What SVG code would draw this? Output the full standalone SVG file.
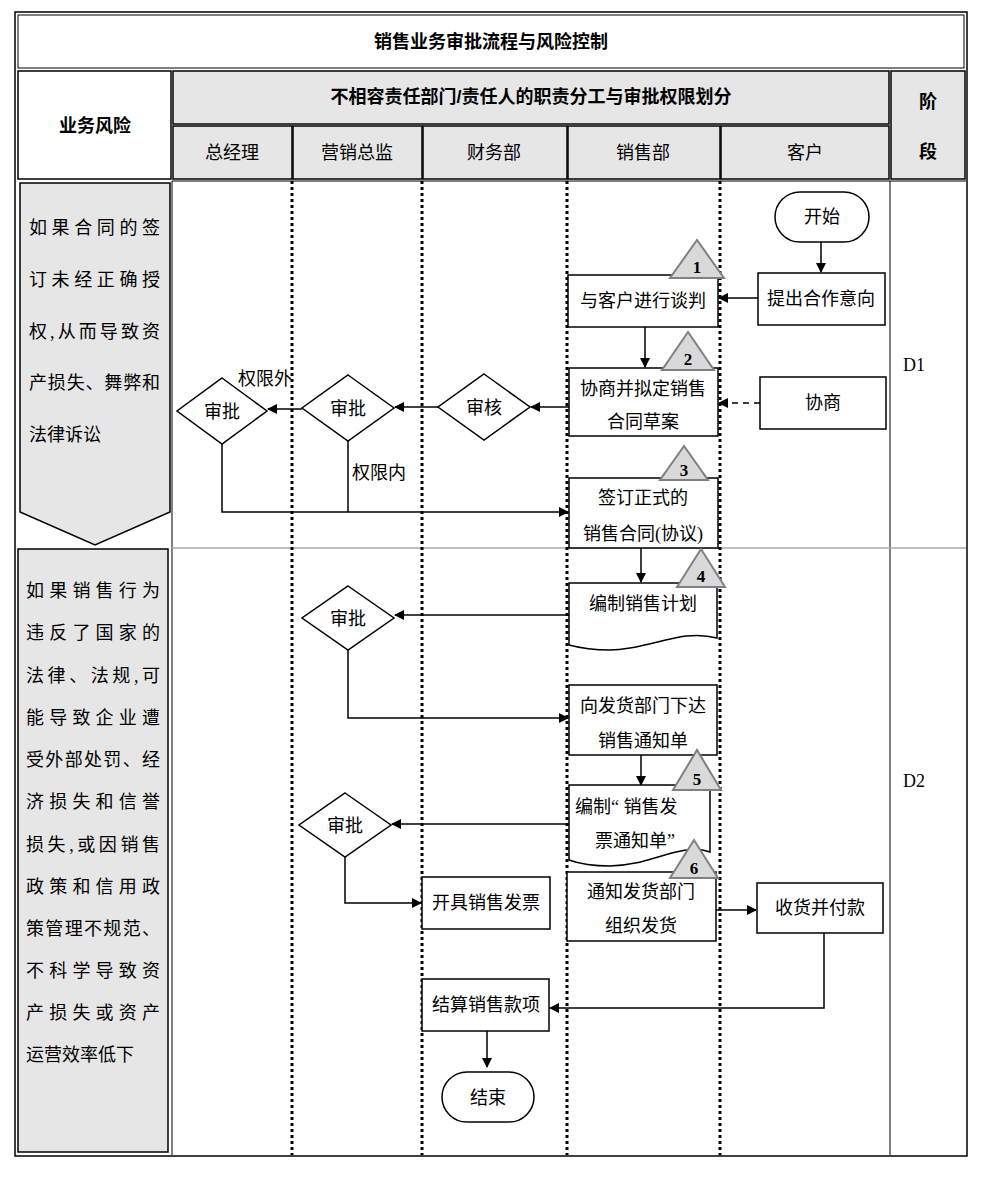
<svg xmlns="http://www.w3.org/2000/svg" width="987" height="1188" viewBox="0 0 987 1188">
<defs>
<marker id="ah" markerWidth="10" markerHeight="10" refX="9" refY="5" orient="auto" markerUnits="userSpaceOnUse"><path d="M0,0 L10,5 L0,10 z" fill="#000"/></marker>
<style>
text{font-family:"Liberation Serif","Noto Sans CJK SC",serif;font-size:18px;fill:#000}
.h{font-family:"Liberation Sans","Noto Sans CJK SC",sans-serif;font-weight:bold;font-size:18px}
.c{text-anchor:middle}
.box{fill:#fff;stroke:#000;stroke-width:1.5}
.gr{fill:#e6e6e6;stroke:#000;stroke-width:1.5}
.tri{fill:#d9d9d9;stroke:#808080;stroke-width:2}
.ln{fill:none;stroke:#000;stroke-width:1.5}
.dot{stroke:#000;stroke-width:3;stroke-dasharray:3 3}
.num{font-weight:bold;font-size:17px;text-anchor:middle}
</style>
</defs>
<rect x="0" y="0" width="987" height="1188" fill="#fff"/>
<g id="frame">
<rect x="15" y="12" width="952" height="1144" fill="none" stroke="#000" stroke-width="1.5"/>
<rect x="18" y="15" width="946" height="53" fill="none" stroke="#000" stroke-width="1"/>
<text class="h c" x="491" y="48">销售业务审批流程与风险控制</text>
<rect x="18" y="71" width="153" height="108" fill="#fff" stroke="#000" stroke-width="1.5"/>
<text class="h c" x="95" y="132">业务风险</text>
<rect x="173" y="71" width="716" height="53" class="gr"/>
<text class="h c" x="531" y="103">不相容责任部门/责任人的职责分工与审批权限划分</text>
<rect x="891" y="71" width="74" height="108" class="gr"/>
<text class="h c" x="928" y="108">阶</text>
<text class="h c" x="928" y="158">段</text>
<rect x="173" y="126" width="119" height="53" class="gr"/>
<rect x="293" y="126" width="129" height="53" class="gr"/>
<rect x="423" y="126" width="144" height="53" class="gr"/>
<rect x="568" y="126" width="152" height="53" class="gr"/>
<rect x="721" y="126" width="168" height="53" class="gr"/>
<g style="font-family:'Noto Sans CJK SC',sans-serif;fill:#333">
<text class="c" x="232" y="159" style="font-family:'Noto Sans CJK SC',sans-serif">总经理</text>
<text class="c" x="357" y="159" style="font-family:'Noto Sans CJK SC',sans-serif">营销总监</text>
<text class="c" x="494" y="159" style="font-family:'Noto Sans CJK SC',sans-serif">财务部</text>
<text class="c" x="643" y="159" style="font-family:'Noto Sans CJK SC',sans-serif">销售部</text>
<text class="c" x="805" y="159" style="font-family:'Noto Sans CJK SC',sans-serif">客户</text>
</g>
<line x1="172" y1="181" x2="172" y2="1155" stroke="#000" stroke-width="1"/>
<line x1="890" y1="181" x2="890" y2="1155" stroke="#000" stroke-width="1"/>
<line x1="172" y1="181" x2="966" y2="181" stroke="#000" stroke-width="1"/>
<line x1="172" y1="548" x2="966" y2="548" stroke="#aaa" stroke-width="1.5"/>
<line class="dot" x1="292" y1="181" x2="292" y2="1155"/>
<line class="dot" x1="422" y1="181" x2="422" y2="1155"/>
<line class="dot" x1="567" y1="181" x2="567" y2="1155"/>
<line class="dot" x1="720" y1="181" x2="720" y2="1155"/>
<text x="903" y="371">D1</text>
<text x="903" y="787">D2</text>
</g>
<g id="risk1">
<path d="M20,183 H170 V512 L95,545 L20,512 Z" class="gr"/>
<text x="29" y="234" textLength="131" lengthAdjust="spacing">如果合同的签</text>
<text x="29" y="286" textLength="131" lengthAdjust="spacing">订未经正确授</text>
<text x="29" y="338" textLength="131" lengthAdjust="spacing">权,从而导致资</text>
<text x="29" y="389" textLength="131" lengthAdjust="spacing">产损失、舞弊和</text>
<text x="29" y="441">法律诉讼</text>
</g>
<g id="risk2">
<rect x="18" y="549" width="150" height="603" class="gr"/>
<text x="26" y="597" textLength="134" lengthAdjust="spacing">如果销售行为</text>
<text x="26" y="639" textLength="134" lengthAdjust="spacing">违反了国家的</text>
<text x="26" y="682" textLength="134" lengthAdjust="spacing">法律、法规,可</text>
<text x="26" y="724" textLength="134" lengthAdjust="spacing">能导致企业遭</text>
<text x="26" y="766" textLength="134" lengthAdjust="spacing">受外部处罚、经</text>
<text x="26" y="808" textLength="134" lengthAdjust="spacing">济损失和信誉</text>
<text x="26" y="851" textLength="134" lengthAdjust="spacing">损失,或因销售</text>
<text x="26" y="893" textLength="134" lengthAdjust="spacing">政策和信用政</text>
<text x="26" y="935" textLength="134" lengthAdjust="spacing">策管理不规范、</text>
<text x="26" y="977" textLength="134" lengthAdjust="spacing">不科学导致资</text>
<text x="26" y="1019" textLength="134" lengthAdjust="spacing">产损失或资产</text>
<text x="26" y="1061">运营效率低下</text>
</g>
<g id="connectors">
<line class="ln" x1="821" y1="242" x2="821" y2="272" marker-end="url(#ah)"/>
<line class="ln" x1="758" y1="298" x2="719" y2="298" marker-end="url(#ah)"/>
<line class="ln" x1="645" y1="327" x2="645" y2="367" marker-end="url(#ah)"/>
<line class="ln" x1="760" y1="403" x2="719" y2="403" stroke-dasharray="6 5" marker-end="url(#ah)"/>
<line class="ln" x1="569" y1="407" x2="531" y2="407" marker-end="url(#ah)"/>
<line class="ln" x1="438" y1="407" x2="395" y2="407" marker-end="url(#ah)"/>
<line class="ln" x1="302" y1="409" x2="268" y2="409" marker-end="url(#ah)"/>
<polyline class="ln" points="222,444 222,512 568,512" marker-end="url(#ah)"/>
<line class="ln" x1="348" y1="441" x2="348" y2="512"/>
<line class="ln" x1="641" y1="548" x2="641" y2="582" marker-end="url(#ah)"/>
<line class="ln" x1="569" y1="615" x2="395" y2="615" marker-end="url(#ah)"/>
<polyline class="ln" points="348,650 348,718 568,718" marker-end="url(#ah)"/>
<line class="ln" x1="641" y1="755" x2="641" y2="785" marker-end="url(#ah)"/>
<line class="ln" x1="569" y1="824" x2="392" y2="824" marker-end="url(#ah)"/>
<polyline class="ln" points="345,857 345,903 421,903" marker-end="url(#ah)"/>
<line class="ln" x1="716" y1="910" x2="756" y2="910" marker-end="url(#ah)"/>
<polyline class="ln" points="824,933 824,1008 550,1008" marker-end="url(#ah)"/>
<line class="ln" x1="487" y1="1031" x2="487" y2="1067" marker-end="url(#ah)"/>
</g>
<g id="start"><rect x="775" y="192" width="94" height="50" rx="25" class="box"/><text class="c" x="822" y="223">开始</text></g>
<g id="intent"><rect x="758" y="273" width="127" height="52" class="box"/><text class="c" x="821" y="305">提出合作意向</text></g>
<g id="negotiate"><rect x="568" y="275" width="150" height="52" class="box"/><text class="c" x="643" y="307">与客户进行谈判</text></g>
<g id="t1"><polygon class="tri" points="697,240 670,278 724,278"/><text class="num" x="697" y="273">1</text></g>
<g id="draft"><rect x="569" y="368" width="149" height="68" class="box"/><text class="c" x="643" y="395">协商并拟定销售</text><text class="c" x="643" y="428">合同草案</text></g>
<g id="t2"><polygon class="tri" points="688,332 662,370 714,370"/><text class="num" x="688" y="365">2</text></g>
<g id="consult"><rect x="760" y="377" width="126" height="52" class="box"/><text class="c" x="823" y="409">协商</text></g>
<g id="review"><polygon class="box" points="484,374 530,407 484,440 438,407"/><text class="c" x="484" y="414">审核</text></g>
<g id="approve1"><polygon class="box" points="348,375 394,408 348,441 302,408"/><text class="c" x="348" y="415">审批</text></g>
<g id="approve0"><polygon class="box" points="222,378 267,411 222,444 177,411"/><text class="c" x="222" y="418">审批</text></g>
<text x="238" y="385">权限外</text>
<text x="352" y="479">权限内</text>
<g id="sign"><rect x="569" y="478" width="149" height="70" class="box"/><text class="c" x="643" y="504">签订正式的</text><text class="c" x="643" y="540">销售合同(协议)</text></g>
<g id="t3"><polygon class="tri" points="684,446 660,480 708,480"/><text class="num" x="684" y="476">3</text></g>
<g id="plan"><path d="M569,583 H717 V638 C680,628 650,650 610,650 C590,650 580,648 569,645 Z" class="box"/><text class="c" x="643" y="610">编制销售计划</text></g>
<g id="t4"><polygon class="tri" points="701,549 677,587 725,587"/><text class="num" x="701" y="582">4</text></g>
<g id="approve2"><polygon class="box" points="348,586 394,618 348,650 302,618"/><text class="c" x="348" y="625">审批</text></g>
<g id="notice"><rect x="569" y="685" width="148" height="70" class="box"/><text class="c" x="643" y="712">向发货部门下达</text><text class="c" x="643" y="747">销售通知单</text></g>
<g id="invnotice"><path d="M569,785 H710 V852 C680,842 650,866 610,866 C590,866 580,864 569,860 Z" class="box"/><text x="575" y="813">编制“ 销售发</text><text x="595" y="847">票通知单”</text></g>
<g id="t5"><polygon class="tri" points="697,750 673,790 721,790"/><text class="num" x="697" y="785">5</text></g>
<g id="approve3"><polygon class="box" points="345,793 391,825 345,857 299,825"/><text class="c" x="345" y="832">审批</text></g>
<g id="invoice"><rect x="422" y="877" width="128" height="52" class="box"/><text class="c" x="486" y="909">开具销售发票</text></g>
<g id="ship"><rect x="567" y="872" width="149" height="69" class="box"/><text class="c" x="641" y="898">通知发货部门</text><text class="c" x="641" y="932">组织发货</text></g>
<g id="t6"><polygon class="tri" points="694,840 670,878 718,878"/><text class="num" x="694" y="874">6</text></g>
<g id="pay"><rect x="757" y="883" width="126" height="50" class="box"/><text class="c" x="820" y="914">收货并付款</text></g>
<g id="settle"><rect x="422" y="979" width="127" height="52" class="box"/><text class="c" x="486" y="1011">结算销售款项</text></g>
<g id="end"><rect x="442" y="1072" width="92" height="50" rx="25" class="box"/><text class="c" x="488" y="1104">结束</text></g>
</svg>
